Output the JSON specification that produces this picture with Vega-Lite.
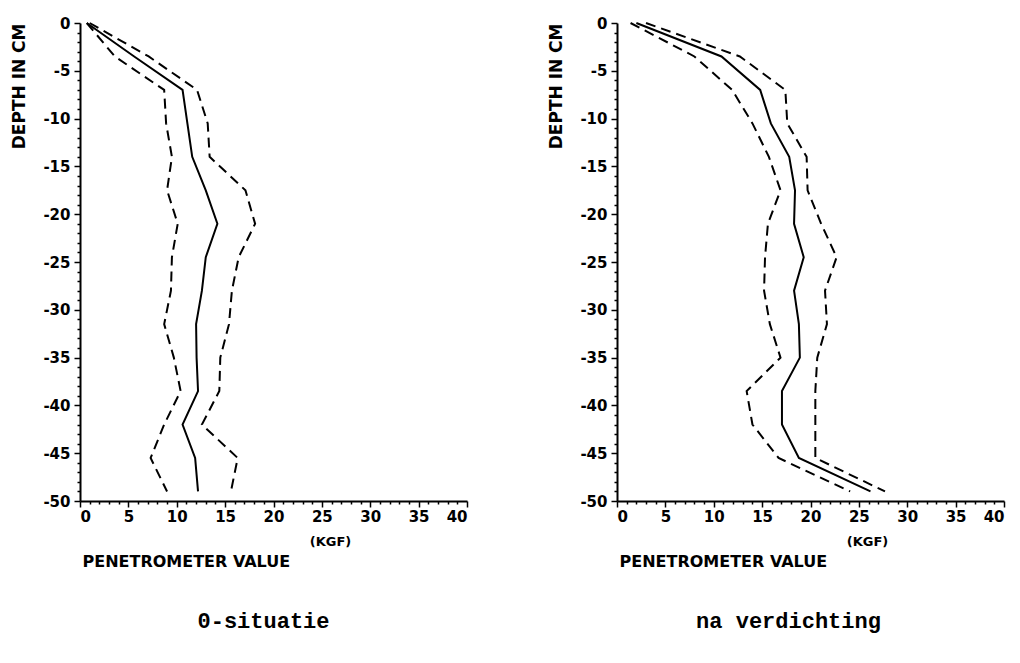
{
  "$schema": "https://vega.github.io/schema/vega-lite/v6.json",
  "background": "white",
  "padding": {"top": 16, "left": 10, "right": 5, "bottom": 5},
  "spacing": 79,
  "config": {
    "view": {"stroke": null},
    "axis": {
      "labelFont": "DejaVu Sans", "labelFontWeight": "bold", "labelFontSize": 15, "labelColor": "black",
      "titleFont": "DejaVu Sans", "titleFontWeight": "bold", "titleColor": "black",
      "domainColor": "black", "domainWidth": 2, "tickColor": "black", "tickWidth": 1.5, "grid": false
    },
    "title": {"font": "Liberation Mono", "fontSize": 22, "fontWeight": "bold", "color": "black"}
  },
  "datasets": {
    "before": [
      {"depth": 0, "series": "mean", "kgf": 0.7}, {"depth": -3.5, "series": "mean", "kgf": 5.6}, {"depth": -7, "series": "mean", "kgf": 10.6}, {"depth": -10.5, "series": "mean", "kgf": 11.1}, {"depth": -14, "series": "mean", "kgf": 11.6}, {"depth": -17.5, "series": "mean", "kgf": 13.0}, {"depth": -21, "series": "mean", "kgf": 14.2}, {"depth": -24.5, "series": "mean", "kgf": 13.0}, {"depth": -28, "series": "mean", "kgf": 12.6}, {"depth": -31.5, "series": "mean", "kgf": 12.0}, {"depth": -35, "series": "mean", "kgf": 12.05}, {"depth": -38.5, "series": "mean", "kgf": 12.2}, {"depth": -42, "series": "mean", "kgf": 10.6}, {"depth": -45.5, "series": "mean", "kgf": 11.9}, {"depth": -49, "series": "mean", "kgf": 12.2},
      {"depth": 0, "series": "low", "kgf": 0.7}, {"depth": -3.5, "series": "low", "kgf": 3.6}, {"depth": -7, "series": "low", "kgf": 8.7}, {"depth": -10.5, "series": "low", "kgf": 8.9}, {"depth": -14, "series": "low", "kgf": 9.5}, {"depth": -17.5, "series": "low", "kgf": 9.0}, {"depth": -21, "series": "low", "kgf": 10.1}, {"depth": -24.5, "series": "low", "kgf": 9.5}, {"depth": -28, "series": "low", "kgf": 9.4}, {"depth": -31.5, "series": "low", "kgf": 8.7}, {"depth": -35, "series": "low", "kgf": 9.7}, {"depth": -38.5, "series": "low", "kgf": 10.4}, {"depth": -42, "series": "low", "kgf": 8.7}, {"depth": -45.5, "series": "low", "kgf": 7.3}, {"depth": -49, "series": "low", "kgf": 9.0},
      {"depth": 0, "series": "high", "kgf": 1.0}, {"depth": -3.5, "series": "high", "kgf": 7.1}, {"depth": -7, "series": "high", "kgf": 12.1}, {"depth": -10.5, "series": "high", "kgf": 13.2}, {"depth": -14, "series": "high", "kgf": 13.4}, {"depth": -17.5, "series": "high", "kgf": 17.1}, {"depth": -21, "series": "high", "kgf": 18.1}, {"depth": -24.5, "series": "high", "kgf": 16.4}, {"depth": -28, "series": "high", "kgf": 15.7}, {"depth": -31.5, "series": "high", "kgf": 15.4}, {"depth": -35, "series": "high", "kgf": 14.5}, {"depth": -38.5, "series": "high", "kgf": 14.4}, {"depth": -42, "series": "high", "kgf": 12.6}, {"depth": -45.5, "series": "high", "kgf": 16.3}, {"depth": -49, "series": "high", "kgf": 15.6}
    ],
    "after": [
      {"depth": 0, "series": "mean", "kgf": 2.0}, {"depth": -3.5, "series": "mean", "kgf": 10.8}, {"depth": -7, "series": "mean", "kgf": 14.8}, {"depth": -10.5, "series": "mean", "kgf": 15.9}, {"depth": -14, "series": "mean", "kgf": 17.8}, {"depth": -17.5, "series": "mean", "kgf": 18.4}, {"depth": -21, "series": "mean", "kgf": 18.3}, {"depth": -24.5, "series": "mean", "kgf": 19.3}, {"depth": -28, "series": "mean", "kgf": 18.3}, {"depth": -31.5, "series": "mean", "kgf": 18.8}, {"depth": -35, "series": "mean", "kgf": 18.9}, {"depth": -38.5, "series": "mean", "kgf": 17.05}, {"depth": -42, "series": "mean", "kgf": 17.05}, {"depth": -45.5, "series": "mean", "kgf": 18.8}, {"depth": -49, "series": "mean", "kgf": 26.2},
      {"depth": 0, "series": "low", "kgf": 1.4}, {"depth": -3.5, "series": "low", "kgf": 8.0}, {"depth": -7, "series": "low", "kgf": 11.9}, {"depth": -10.5, "series": "low", "kgf": 14.0}, {"depth": -14, "series": "low", "kgf": 15.7}, {"depth": -17.5, "series": "low", "kgf": 16.9}, {"depth": -21, "series": "low", "kgf": 15.6}, {"depth": -24.5, "series": "low", "kgf": 15.3}, {"depth": -28, "series": "low", "kgf": 15.2}, {"depth": -31.5, "series": "low", "kgf": 15.8}, {"depth": -35, "series": "low", "kgf": 16.9}, {"depth": -38.5, "series": "low", "kgf": 13.4}, {"depth": -42, "series": "low", "kgf": 14.0}, {"depth": -45.5, "series": "low", "kgf": 16.7}, {"depth": -49, "series": "low", "kgf": 24.1},
      {"depth": 0, "series": "high", "kgf": 3.0}, {"depth": -3.5, "series": "high", "kgf": 12.7}, {"depth": -7, "series": "high", "kgf": 17.4}, {"depth": -10.5, "series": "high", "kgf": 17.6}, {"depth": -14, "series": "high", "kgf": 19.6}, {"depth": -17.5, "series": "high", "kgf": 19.7}, {"depth": -21, "series": "high", "kgf": 21.1}, {"depth": -24.5, "series": "high", "kgf": 22.7}, {"depth": -28, "series": "high", "kgf": 21.5}, {"depth": -31.5, "series": "high", "kgf": 21.7}, {"depth": -35, "series": "high", "kgf": 20.7}, {"depth": -38.5, "series": "high", "kgf": 20.5}, {"depth": -42, "series": "high", "kgf": 20.5}, {"depth": -45.5, "series": "high", "kgf": 20.5}, {"depth": -49, "series": "high", "kgf": 27.7}
    ]
  },
  "hconcat": [
    {
      "width": 387, "height": 478,
      "data": {"name": "before"},
      "title": {"text": "0-situatie", "orient": "bottom", "offset": 42, "dx": -10},
      "encoding": {
        "y": {"field": "depth", "type": "quantitative", "scale": {"domain": [-50, 0], "nice": false},
          "axis": {"title": "DEPTH IN CM", "titleFontSize": 17, "titleAnchor": "end", "titlePadding": 14,
            "values": [0,-1,-2,-3,-4,-5,-6,-7,-8,-9,-10,-11,-12,-13,-14,-15,-16,-17,-18,-19,-20,-21,-22,-23,-24,-25,-26,-27,-28,-29,-30,-31,-32,-33,-34,-35,-36,-37,-38,-39,-40,-41,-42,-43,-44,-45,-46,-47,-48,-49,-50],
            "labelExpr": "datum.value % 5 === 0 ? toString(datum.value) : ''",
            "labelPadding": 4,
            "tickSize": {"condition": {"test": "datum.value % 5 === 0", "value": 6}, "value": 3}}}
      },
      "layer": [
        {
          "transform": [{"filter": "datum.series === 'mean'"}],
          "mark": {"type": "line", "color": "black", "strokeWidth": 2},
          "encoding": {
            "x": {"field": "kgf", "type": "quantitative", "scale": {"domain": [0, 40], "nice": false},
              "axis": {"title": "(KGF)", "titleFontSize": 13, "titleX": 250, "titleY": 34, "titleBaseline": "top", "titleAlign": "center",
                "values": [0,1,2,3,4,5,6,7,8,9,10,11,12,13,14,15,16,17,18,19,20,21,22,23,24,25,26,27,28,29,30,31,32,33,34,35,36,37,38,39,40],
                "labelExpr": "datum.value % 5 === 0 ? toString(datum.value) : ''",
                "labelPadding": 2,
                "tickSize": {"condition": {"test": "datum.value % 5 === 0", "value": 6}, "value": 3}}},
            "order": {"field": "depth", "sort": "descending"}
          }
        },
        {
          "transform": [{"filter": "datum.series !== 'mean'"}],
          "mark": {"type": "line", "color": "black", "strokeWidth": 2, "strokeDash": [10, 6]},
          "encoding": {
            "x": {"field": "kgf", "type": "quantitative", "scale": {"domain": [0, 40], "nice": false},
              "axis": {"title": "PENETROMETER VALUE", "titleFontSize": 16, "titleX": 2, "titleY": 52, "titleBaseline": "top", "titleAlign": "left",
                "domain": false, "ticks": false, "labels": false, "orient": "bottom"}},
            "detail": {"field": "series"},
            "order": {"field": "depth", "sort": "descending"}
          }
        }
      ],
      "resolve": {"axis": {"x": "independent"}}
    },
    {
      "width": 387, "height": 478,
      "data": {"name": "after"},
      "title": {"text": "na verdichting", "orient": "bottom", "offset": 42, "dx": -22},
      "encoding": {
        "y": {"field": "depth", "type": "quantitative", "scale": {"domain": [-50, 0], "nice": false},
          "axis": {"title": "DEPTH IN CM", "titleFontSize": 17, "titleAnchor": "end", "titlePadding": 14,
            "values": [0,-1,-2,-3,-4,-5,-6,-7,-8,-9,-10,-11,-12,-13,-14,-15,-16,-17,-18,-19,-20,-21,-22,-23,-24,-25,-26,-27,-28,-29,-30,-31,-32,-33,-34,-35,-36,-37,-38,-39,-40,-41,-42,-43,-44,-45,-46,-47,-48,-49,-50],
            "labelExpr": "datum.value % 5 === 0 ? toString(datum.value) : ''",
            "labelPadding": 4,
            "tickSize": {"condition": {"test": "datum.value % 5 === 0", "value": 6}, "value": 3}}}
      },
      "layer": [
        {
          "transform": [{"filter": "datum.series === 'mean'"}],
          "mark": {"type": "line", "color": "black", "strokeWidth": 2},
          "encoding": {
            "x": {"field": "kgf", "type": "quantitative", "scale": {"domain": [0, 40], "nice": false},
              "axis": {"title": "(KGF)", "titleFontSize": 13, "titleX": 250, "titleY": 34, "titleBaseline": "top", "titleAlign": "center",
                "values": [0,1,2,3,4,5,6,7,8,9,10,11,12,13,14,15,16,17,18,19,20,21,22,23,24,25,26,27,28,29,30,31,32,33,34,35,36,37,38,39,40],
                "labelExpr": "datum.value % 5 === 0 ? toString(datum.value) : ''",
                "labelPadding": 2,
                "tickSize": {"condition": {"test": "datum.value % 5 === 0", "value": 6}, "value": 3}}},
            "order": {"field": "depth", "sort": "descending"}
          }
        },
        {
          "transform": [{"filter": "datum.series !== 'mean'"}],
          "mark": {"type": "line", "color": "black", "strokeWidth": 2, "strokeDash": [10, 6]},
          "encoding": {
            "x": {"field": "kgf", "type": "quantitative", "scale": {"domain": [0, 40], "nice": false},
              "axis": {"title": "PENETROMETER VALUE", "titleFontSize": 16, "titleX": 2, "titleY": 52, "titleBaseline": "top", "titleAlign": "left",
                "domain": false, "ticks": false, "labels": false, "orient": "bottom"}},
            "detail": {"field": "series"},
            "order": {"field": "depth", "sort": "descending"}
          }
        }
      ],
      "resolve": {"axis": {"x": "independent"}}
    }
  ]
}
